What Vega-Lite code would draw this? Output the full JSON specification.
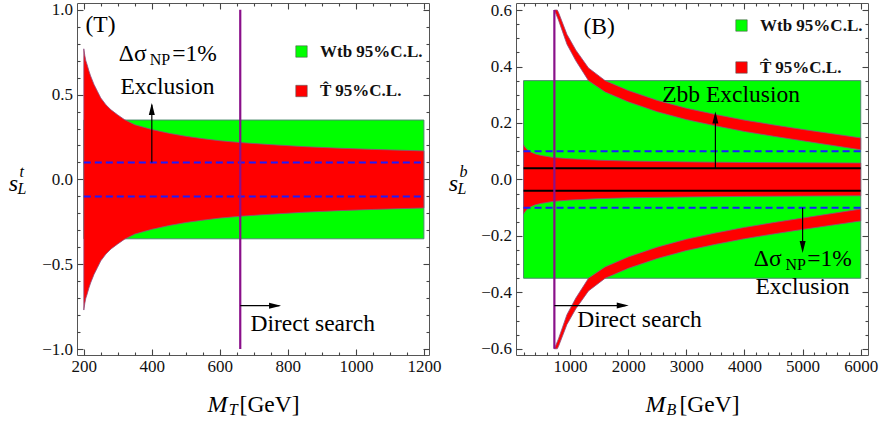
{
  "$schema": "https://vega.github.io/schema/vega-lite/v6.json",
  "padding": {"left": 8, "top": 0, "right": 4, "bottom": 0},
  "spacing": 87,
  "bounds": "flush",
  "resolve": {"scale": {"color": "independent"}},
  "config": {
    "view": {"stroke": "#555", "strokeWidth": 1},
    "axis": {"labelFont": "Liberation Serif", "labelFontSize": 17, "labelColor": "#111", "ticks": true, "tickOpacity": 1, "tickColor": "#444", "tickWidth": 1.1, "domain": false, "grid": false, "labelOverlap": false, "labelFlush": false, "title": null, "zindex": 1},
    "text": {"font": "Liberation Serif", "color": "black", "align": "left", "baseline": "alphabetic"}
  },
  "hconcat": [
    {
      "width": 352, "height": 352,
      "resolve": {"axis": {"x": "independent", "y": "independent"}},
      "layer": [
        {
          "data": {"values": [{"x": 200, "x2": 1200, "y": -0.35, "y2": 0.35, "series": "Wtb 95%C.L."}]},
          "mark": {"type": "rect", "stroke": "#4d8a6e", "strokeWidth": 1},
          "encoding": {
            "x": {"field": "x", "type": "quantitative", "scale": {"domain": [180, 1215], "nice": false, "zero": false},
              "axis": {"orient": "bottom", "values": [200,400,600,800,1000,1200], "format": "d", "tickSize": 6, "offset": -6, "labelPadding": 3}},
            "x2": {"field": "x2"},
            "y": {"field": "y", "type": "quantitative", "scale": {"domain": [-1.035, 1.04], "nice": false, "zero": false},
              "axis": {"orient": "left", "values": [-1,-0.5,0,0.5,1], "format": ".1f", "tickSize": 6, "offset": -6, "labelPadding": 4.5}},
            "y2": {"field": "y2"},
            "color": {"field": "series", "type": "nominal", "scale": {"domain": ["Wtb 95%C.L.", "T\u0302 95%C.L."], "range": ["#00ff00", "#ff0000"]},
              "legend": {"title": null, "orient": "none", "legendX": 216, "legendY": 40, "symbolType": "square", "symbolSize": 130, "symbolStrokeColor": "#555", "symbolStrokeWidth": 0.6, "labelFont": "Liberation Serif", "labelFontWeight": "bold", "labelFontSize": 17, "labelColor": "#111", "rowPadding": 21.5, "labelOffset": 10}}
          }
        },
        {
          "data": {"values": [
            {"x": 200, "hi": 0.77, "lo": -0.77, "series": "T\u0302 95%C.L."},
            {"x": 203, "hi": 0.73, "lo": -0.73, "series": "T\u0302 95%C.L."},
            {"x": 206, "hi": 0.70, "lo": -0.70, "series": "T\u0302 95%C.L."},
            {"x": 210, "hi": 0.675, "lo": -0.675, "series": "T\u0302 95%C.L."},
            {"x": 215, "hi": 0.64, "lo": -0.64, "series": "T\u0302 95%C.L."},
            {"x": 220, "hi": 0.61, "lo": -0.61, "series": "T\u0302 95%C.L."},
            {"x": 230, "hi": 0.56, "lo": -0.56, "series": "T\u0302 95%C.L."},
            {"x": 240, "hi": 0.52, "lo": -0.52, "series": "T\u0302 95%C.L."},
            {"x": 250, "hi": 0.48, "lo": -0.48, "series": "T\u0302 95%C.L."},
            {"x": 265, "hi": 0.44, "lo": -0.44, "series": "T\u0302 95%C.L."},
            {"x": 280, "hi": 0.41, "lo": -0.41, "series": "T\u0302 95%C.L."},
            {"x": 300, "hi": 0.38, "lo": -0.38, "series": "T\u0302 95%C.L."},
            {"x": 320, "hi": 0.352, "lo": -0.352, "series": "T\u0302 95%C.L."},
            {"x": 350, "hi": 0.322, "lo": -0.322, "series": "T\u0302 95%C.L."},
            {"x": 400, "hi": 0.294, "lo": -0.294, "series": "T\u0302 95%C.L."},
            {"x": 450, "hi": 0.272, "lo": -0.272, "series": "T\u0302 95%C.L."},
            {"x": 500, "hi": 0.254, "lo": -0.254, "series": "T\u0302 95%C.L."},
            {"x": 550, "hi": 0.24, "lo": -0.24, "series": "T\u0302 95%C.L."},
            {"x": 600, "hi": 0.228, "lo": -0.228, "series": "T\u0302 95%C.L."},
            {"x": 660, "hi": 0.217, "lo": -0.217, "series": "T\u0302 95%C.L."},
            {"x": 750, "hi": 0.205, "lo": -0.205, "series": "T\u0302 95%C.L."},
            {"x": 850, "hi": 0.193, "lo": -0.193, "series": "T\u0302 95%C.L."},
            {"x": 950, "hi": 0.184, "lo": -0.184, "series": "T\u0302 95%C.L."},
            {"x": 1050, "hi": 0.177, "lo": -0.177, "series": "T\u0302 95%C.L."},
            {"x": 1200, "hi": 0.168, "lo": -0.168, "series": "T\u0302 95%C.L."}
          ]},
          "mark": {"type": "area", "stroke": "#8e4f80", "strokeWidth": 0.8},
          "encoding": {
            "x": {"field": "x", "type": "quantitative", "scale": {"domain": [180, 1215], "nice": false, "zero": false},
              "axis": {"orient": "top", "labels": false, "values": [200,400,600,800,1000,1200], "tickSize": 6, "offset": -6}},
            "y": {"field": "hi", "type": "quantitative", "scale": {"domain": [-1.035, 1.04], "nice": false, "zero": false},
              "axis": {"orient": "right", "labels": false, "values": [-1,-0.5,0,0.5,1], "tickSize": 6, "offset": -6}},
            "y2": {"field": "lo"},
            "color": {"field": "series", "type": "nominal", "scale": {"domain": ["Wtb 95%C.L.", "T\u0302 95%C.L."], "range": ["#00ff00", "#ff0000"]},
              "legend": {"title": null, "orient": "none", "legendX": 216, "legendY": 40, "symbolType": "square", "symbolSize": 130, "symbolStrokeColor": "#555", "symbolStrokeWidth": 0.6, "labelFont": "Liberation Serif", "labelFontWeight": "bold", "labelFontSize": 17, "labelColor": "#111", "rowPadding": 21.5, "labelOffset": 10}}
          }
        },
        {
          "data": {"values": [{"x": 200, "x2": 1200, "y": 0.1}, {"x": 200, "x2": 1200, "y": -0.1}]},
          "mark": {"type": "rule", "color": "#1c1cff", "strokeWidth": 2, "strokeDash": [7, 4]},
          "encoding": {
            "x": {"field": "x", "type": "quantitative", "scale": {"domain": [180, 1215], "nice": false, "zero": false},
              "axis": {"orient": "bottom", "labels": false, "values": [250,300,350,450,500,550,650,700,750,850,900,950,1050,1100,1150], "tickSize": 3, "offset": -3}},
            "x2": {"field": "x2"},
            "y": {"field": "y", "type": "quantitative", "scale": {"domain": [-1.035, 1.04], "nice": false, "zero": false},
              "axis": {"orient": "left", "labels": false, "values": [-0.9,-0.8,-0.7,-0.6,-0.4,-0.3,-0.2,-0.1,0.1,0.2,0.3,0.4,0.6,0.7,0.8,0.9], "tickSize": 3, "offset": -3}}
          }
        },
        {
          "data": {"values": [{"x": 660, "y": -1, "y2": 1}]},
          "mark": {"type": "rule", "color": "#8a108a", "strokeWidth": 2.2},
          "encoding": {
            "x": {"field": "x", "type": "quantitative", "scale": {"domain": [180, 1215], "nice": false, "zero": false},
              "axis": {"orient": "top", "labels": false, "values": [250,300,350,450,500,550,650,700,750,850,900,950,1050,1100,1150], "tickSize": 3, "offset": -3}},
            "y": {"field": "y", "type": "quantitative", "scale": {"domain": [-1.035, 1.04], "nice": false, "zero": false},
              "axis": {"orient": "right", "labels": false, "values": [-0.9,-0.8,-0.7,-0.6,-0.4,-0.3,-0.2,-0.1,0.1,0.2,0.3,0.4,0.6,0.7,0.8,0.9], "tickSize": 3, "offset": -3}},
            "y2": {"field": "y2"}
          }
        },
        {
          "data": {"values": [{"x": 660, "y": -0.744, "x2": 775, "y2": -0.744}, {"x": 400, "y": 0.1, "x2": 400, "y2": 0.44}]},
          "mark": {"type": "rule", "color": "black", "strokeWidth": 1.2},
          "encoding": {
            "x": {"field": "x", "type": "quantitative", "scale": {"domain": [180, 1215], "nice": false, "zero": false}, "axis": null},
            "x2": {"field": "x2"},
            "y": {"field": "y", "type": "quantitative", "scale": {"domain": [-1.035, 1.04], "nice": false, "zero": false}, "axis": null},
            "y2": {"field": "y2"}
          }
        },
        {
          "data": {"values": [{"x": 400, "y": 0.45}]},
          "mark": {"type": "point", "shape": "M0,0L0.5,2L-0.5,2Z", "size": 144, "filled": true, "color": "black", "opacity": 1, "strokeWidth": 0, "angle": 0},
          "encoding": {
            "x": {"field": "x", "type": "quantitative", "scale": {"domain": [180, 1215], "nice": false, "zero": false}, "axis": null},
            "y": {"field": "y", "type": "quantitative", "scale": {"domain": [-1.035, 1.04], "nice": false, "zero": false}, "axis": null}
          }
        },
        {
          "data": {"values": [{"x": 780, "y": -0.744}]},
          "mark": {"type": "point", "shape": "M0,0L0.5,2L-0.5,2Z", "size": 144, "filled": true, "color": "black", "opacity": 1, "strokeWidth": 0, "angle": 90},
          "encoding": {
            "x": {"field": "x", "type": "quantitative", "scale": {"domain": [180, 1215], "nice": false, "zero": false}, "axis": null},
            "y": {"field": "y", "type": "quantitative", "scale": {"domain": [-1.035, 1.04], "nice": false, "zero": false}, "axis": null}
          }
        },
        {
          "data": {"values": [
            {"x": 205, "y": 0.869, "text": "(T)"},
            {"x": 302.9, "y": 0.696, "text": "\u0394\u03c3"},
            {"x": 459.9, "y": 0.696, "text": "=1%"},
            {"x": 307.9, "y": 0.506, "text": "Exclusion"},
            {"x": 690, "y": -0.891, "text": "Direct search"},
            {"x": 658, "y": -1.371, "text": "[GeV]"}
          ]},
          "mark": {"type": "text", "fontSize": 23.5},
          "encoding": {
            "x": {"field": "x", "type": "quantitative", "scale": {"domain": [180, 1215], "nice": false, "zero": false}, "axis": null},
            "y": {"field": "y", "type": "quantitative", "scale": {"domain": [-1.035, 1.04], "nice": false, "zero": false}, "axis": null},
            "text": {"field": "text"}
          }
        },
        {
          "data": {"values": [{"x": 394, "y": 0.673, "text": "NP"}]},
          "mark": {"type": "text", "fontSize": 16},
          "encoding": {
            "x": {"field": "x", "type": "quantitative", "scale": {"domain": [180, 1215], "nice": false, "zero": false}, "axis": null},
            "y": {"field": "y", "type": "quantitative", "scale": {"domain": [-1.035, 1.04], "nice": false, "zero": false}, "axis": null},
            "text": {"field": "text"}
          }
        },
        {
          "data": {"values": [{"x": 563.7, "y": -1.371, "text": "M"}, {"x": -21, "y": -0.07, "text": "s"}]},
          "mark": {"type": "text", "fontSize": 24, "fontStyle": "italic"},
          "encoding": {
            "x": {"field": "x", "type": "quantitative", "scale": {"domain": [180, 1215], "nice": false, "zero": false}, "axis": null},
            "y": {"field": "y", "type": "quantitative", "scale": {"domain": [-1.035, 1.04], "nice": false, "zero": false}, "axis": null},
            "text": {"field": "text"}
          }
        },
        {
          "data": {"values": [{"x": 626, "y": -1.391, "text": "T"}, {"x": 11, "y": 0.012, "text": "t"}, {"x": 5, "y": -0.086, "text": "L"}]},
          "mark": {"type": "text", "fontSize": 16, "fontStyle": "italic"},
          "encoding": {
            "x": {"field": "x", "type": "quantitative", "scale": {"domain": [180, 1215], "nice": false, "zero": false}, "axis": null},
            "y": {"field": "y", "type": "quantitative", "scale": {"domain": [-1.035, 1.04], "nice": false, "zero": false}, "axis": null},
            "text": {"field": "text"}
          }
        }
      ]
    },
    {
      "width": 352, "height": 352,
      "resolve": {"axis": {"x": "independent", "y": "independent"}},
      "layer": [
        {
          "data": {"values": [{"x": 200, "x2": 6000, "y": -0.35, "y2": 0.35, "series": "Wtb 95%C.L."}]},
          "mark": {"type": "rect", "stroke": "#4d8a6e", "strokeWidth": 1},
          "encoding": {
            "x": {"field": "x", "type": "quantitative", "scale": {"domain": [70, 6125], "nice": false, "zero": false},
              "axis": {"orient": "bottom", "values": [1000,2000,3000,4000,5000,6000], "format": "d", "tickSize": 6, "offset": -6, "labelPadding": 3}},
            "x2": {"field": "x2"},
            "y": {"field": "y", "type": "quantitative", "scale": {"domain": [-0.622, 0.625], "nice": false, "zero": false},
              "axis": {"orient": "left", "values": [-0.6,-0.4,-0.2,0,0.2,0.4,0.6], "format": ".1f", "tickSize": 6, "offset": -6, "labelPadding": 4.5}},
            "y2": {"field": "y2"},
            "color": {"field": "series", "type": "nominal", "scale": {"domain": ["Wtb 95%C.L.", "T\u0302 95%C.L."], "range": ["#00ff00", "#ff0000"]},
              "legend": {"title": null, "orient": "none", "legendX": 217, "legendY": 14, "symbolType": "square", "symbolSize": 130, "symbolStrokeColor": "#555", "symbolStrokeWidth": 0.6, "labelFont": "Liberation Serif", "labelFontWeight": "bold", "labelFontSize": 17, "labelColor": "#111", "rowPadding": 24, "labelOffset": 10}}
          }
        },
        {
          "data": {"values": [
            {"part": "c", "x": 200, "hi": 0.122, "lo": -0.122, "series": "T\u0302 95%C.L."},
            {"part": "c", "x": 230, "hi": 0.113, "lo": -0.113, "series": "T\u0302 95%C.L."},
            {"part": "c", "x": 260, "hi": 0.106, "lo": -0.106, "series": "T\u0302 95%C.L."},
            {"part": "c", "x": 300, "hi": 0.099, "lo": -0.099, "series": "T\u0302 95%C.L."},
            {"part": "c", "x": 400, "hi": 0.09, "lo": -0.09, "series": "T\u0302 95%C.L."},
            {"part": "c", "x": 500, "hi": 0.085, "lo": -0.085, "series": "T\u0302 95%C.L."},
            {"part": "c", "x": 700, "hi": 0.078, "lo": -0.078, "series": "T\u0302 95%C.L."},
            {"part": "c", "x": 1000, "hi": 0.073, "lo": -0.073, "series": "T\u0302 95%C.L."},
            {"part": "c", "x": 1500, "hi": 0.068, "lo": -0.068, "series": "T\u0302 95%C.L."},
            {"part": "c", "x": 2000, "hi": 0.065, "lo": -0.065, "series": "T\u0302 95%C.L."},
            {"part": "c", "x": 3000, "hi": 0.062, "lo": -0.062, "series": "T\u0302 95%C.L."},
            {"part": "c", "x": 4000, "hi": 0.06, "lo": -0.06, "series": "T\u0302 95%C.L."},
            {"part": "c", "x": 5000, "hi": 0.059, "lo": -0.059, "series": "T\u0302 95%C.L."},
            {"part": "c", "x": 6000, "hi": 0.058, "lo": -0.058, "series": "T\u0302 95%C.L."},
            {"part": "u", "x": 730, "hi": 0.6, "lo": 0.6, "series": "T\u0302 95%C.L."},
            {"part": "u", "x": 780, "hi": 0.6, "lo": 0.575, "series": "T\u0302 95%C.L."},
            {"part": "u", "x": 800, "hi": 0.592, "lo": 0.565, "series": "T\u0302 95%C.L."},
            {"part": "u", "x": 946, "hi": 0.514, "lo": 0.479, "series": "T\u0302 95%C.L."},
            {"part": "u", "x": 1100, "hi": 0.458, "lo": 0.42, "series": "T\u0302 95%C.L."},
            {"part": "u", "x": 1317, "hi": 0.395, "lo": 0.35, "series": "T\u0302 95%C.L."},
            {"part": "u", "x": 1604, "hi": 0.35, "lo": 0.31, "series": "T\u0302 95%C.L."},
            {"part": "u", "x": 2000, "hi": 0.315, "lo": 0.275, "series": "T\u0302 95%C.L."},
            {"part": "u", "x": 2500, "hi": 0.28, "lo": 0.24, "series": "T\u0302 95%C.L."},
            {"part": "u", "x": 3000, "hi": 0.252, "lo": 0.212, "series": "T\u0302 95%C.L."},
            {"part": "u", "x": 3500, "hi": 0.23, "lo": 0.19, "series": "T\u0302 95%C.L."},
            {"part": "u", "x": 4000, "hi": 0.21, "lo": 0.17, "series": "T\u0302 95%C.L."},
            {"part": "u", "x": 4500, "hi": 0.193, "lo": 0.153, "series": "T\u0302 95%C.L."},
            {"part": "u", "x": 5000, "hi": 0.177, "lo": 0.137, "series": "T\u0302 95%C.L."},
            {"part": "u", "x": 5500, "hi": 0.162, "lo": 0.121, "series": "T\u0302 95%C.L."},
            {"part": "u", "x": 6000, "hi": 0.147, "lo": 0.105, "series": "T\u0302 95%C.L."},
            {"part": "d", "x": 730, "hi": -0.6, "lo": -0.6, "series": "T\u0302 95%C.L."},
            {"part": "d", "x": 780, "hi": -0.575, "lo": -0.6, "series": "T\u0302 95%C.L."},
            {"part": "d", "x": 800, "hi": -0.565, "lo": -0.592, "series": "T\u0302 95%C.L."},
            {"part": "d", "x": 946, "hi": -0.479, "lo": -0.514, "series": "T\u0302 95%C.L."},
            {"part": "d", "x": 1100, "hi": -0.42, "lo": -0.458, "series": "T\u0302 95%C.L."},
            {"part": "d", "x": 1317, "hi": -0.35, "lo": -0.395, "series": "T\u0302 95%C.L."},
            {"part": "d", "x": 1604, "hi": -0.31, "lo": -0.35, "series": "T\u0302 95%C.L."},
            {"part": "d", "x": 2000, "hi": -0.275, "lo": -0.315, "series": "T\u0302 95%C.L."},
            {"part": "d", "x": 2500, "hi": -0.24, "lo": -0.28, "series": "T\u0302 95%C.L."},
            {"part": "d", "x": 3000, "hi": -0.212, "lo": -0.252, "series": "T\u0302 95%C.L."},
            {"part": "d", "x": 3500, "hi": -0.19, "lo": -0.23, "series": "T\u0302 95%C.L."},
            {"part": "d", "x": 4000, "hi": -0.17, "lo": -0.21, "series": "T\u0302 95%C.L."},
            {"part": "d", "x": 4500, "hi": -0.153, "lo": -0.193, "series": "T\u0302 95%C.L."},
            {"part": "d", "x": 5000, "hi": -0.137, "lo": -0.177, "series": "T\u0302 95%C.L."},
            {"part": "d", "x": 5500, "hi": -0.121, "lo": -0.162, "series": "T\u0302 95%C.L."},
            {"part": "d", "x": 6000, "hi": -0.105, "lo": -0.147, "series": "T\u0302 95%C.L."}
          ]},
          "mark": {"type": "area", "stroke": "#8e4f80", "strokeWidth": 0.8},
          "encoding": {
            "x": {"field": "x", "type": "quantitative", "scale": {"domain": [70, 6125], "nice": false, "zero": false},
              "axis": {"orient": "top", "labels": false, "values": [1000,2000,3000,4000,5000,6000], "tickSize": 6, "offset": -6}},
            "y": {"field": "hi", "type": "quantitative", "scale": {"domain": [-0.622, 0.625], "nice": false, "zero": false},
              "axis": {"orient": "right", "labels": false, "values": [-0.6,-0.4,-0.2,0,0.2,0.4,0.6], "tickSize": 6, "offset": -6}},
            "y2": {"field": "lo"},
            "detail": {"field": "part"},
            "color": {"field": "series", "type": "nominal", "scale": {"domain": ["Wtb 95%C.L.", "T\u0302 95%C.L."], "range": ["#00ff00", "#ff0000"]},
              "legend": {"title": null, "orient": "none", "legendX": 217, "legendY": 14, "symbolType": "square", "symbolSize": 130, "symbolStrokeColor": "#555", "symbolStrokeWidth": 0.6, "labelFont": "Liberation Serif", "labelFontWeight": "bold", "labelFontSize": 17, "labelColor": "#111", "rowPadding": 24, "labelOffset": 10}}
          }
        },
        {
          "data": {"values": [{"x": 200, "x2": 6000, "y": 0.1}, {"x": 200, "x2": 6000, "y": -0.1}]},
          "mark": {"type": "rule", "color": "#1c1cff", "strokeWidth": 2, "strokeDash": [7, 4]},
          "encoding": {
            "x": {"field": "x", "type": "quantitative", "scale": {"domain": [70, 6125], "nice": false, "zero": false},
              "axis": {"orient": "bottom", "labels": false, "values": [200,400,600,800,1200,1400,1600,1800,2200,2400,2600,2800,3200,3400,3600,3800,4200,4400,4600,4800,5200,5400,5600,5800], "tickSize": 3, "offset": -3}},
            "x2": {"field": "x2"},
            "y": {"field": "y", "type": "quantitative", "scale": {"domain": [-0.622, 0.625], "nice": false, "zero": false},
              "axis": {"orient": "left", "labels": false, "values": [-0.55,-0.5,-0.45,-0.35,-0.3,-0.25,-0.15,-0.1,-0.05,0.05,0.1,0.15,0.25,0.3,0.35,0.45,0.5,0.55], "tickSize": 3, "offset": -3}}
          }
        },
        {
          "data": {"values": [{"x": 200, "x2": 6000, "y": 0.04}, {"x": 200, "x2": 6000, "y": -0.04}]},
          "mark": {"type": "rule", "color": "black", "strokeWidth": 2},
          "encoding": {
            "x": {"field": "x", "type": "quantitative", "scale": {"domain": [70, 6125], "nice": false, "zero": false},
              "axis": {"orient": "top", "labels": false, "values": [200,400,600,800,1200,1400,1600,1800,2200,2400,2600,2800,3200,3400,3600,3800,4200,4400,4600,4800,5200,5400,5600,5800], "tickSize": 3, "offset": -3}},
            "x2": {"field": "x2"},
            "y": {"field": "y", "type": "quantitative", "scale": {"domain": [-0.622, 0.625], "nice": false, "zero": false},
              "axis": {"orient": "right", "labels": false, "values": [-0.55,-0.5,-0.45,-0.35,-0.3,-0.25,-0.15,-0.1,-0.05,0.05,0.1,0.15,0.25,0.3,0.35,0.45,0.5,0.55], "tickSize": 3, "offset": -3}}
          }
        },
        {
          "data": {"values": [{"x": 730, "y": -0.6, "y2": 0.6}]},
          "mark": {"type": "rule", "color": "#8a108a", "strokeWidth": 2.2},
          "encoding": {
            "x": {"field": "x", "type": "quantitative", "scale": {"domain": [70, 6125], "nice": false, "zero": false}, "axis": null},
            "y": {"field": "y", "type": "quantitative", "scale": {"domain": [-0.622, 0.625], "nice": false, "zero": false}, "axis": null},
            "y2": {"field": "y2"}
          }
        },
        {
          "data": {"values": [{"x": 730, "y": -0.447, "x2": 1950, "y2": -0.447}, {"x": 3500, "y": 0.04, "x2": 3500, "y2": 0.225}, {"x": 5000, "y": -0.1, "x2": 5000, "y2": -0.245}]},
          "mark": {"type": "rule", "color": "black", "strokeWidth": 1.2},
          "encoding": {
            "x": {"field": "x", "type": "quantitative", "scale": {"domain": [70, 6125], "nice": false, "zero": false}, "axis": null},
            "x2": {"field": "x2"},
            "y": {"field": "y", "type": "quantitative", "scale": {"domain": [-0.622, 0.625], "nice": false, "zero": false}, "axis": null},
            "y2": {"field": "y2"}
          }
        },
        {
          "data": {"values": [{"x": 3500, "y": 0.241}]},
          "mark": {"type": "point", "shape": "M0,0L0.5,2L-0.5,2Z", "size": 144, "filled": true, "color": "black", "opacity": 1, "strokeWidth": 0, "angle": 0},
          "encoding": {
            "x": {"field": "x", "type": "quantitative", "scale": {"domain": [70, 6125], "nice": false, "zero": false}, "axis": null},
            "y": {"field": "y", "type": "quantitative", "scale": {"domain": [-0.622, 0.625], "nice": false, "zero": false}, "axis": null}
          }
        },
        {
          "data": {"values": [{"x": 2010, "y": -0.447}]},
          "mark": {"type": "point", "shape": "M0,0L0.5,2L-0.5,2Z", "size": 144, "filled": true, "color": "black", "opacity": 1, "strokeWidth": 0, "angle": 90},
          "encoding": {
            "x": {"field": "x", "type": "quantitative", "scale": {"domain": [70, 6125], "nice": false, "zero": false}, "axis": null},
            "y": {"field": "y", "type": "quantitative", "scale": {"domain": [-0.622, 0.625], "nice": false, "zero": false}, "axis": null}
          }
        },
        {
          "data": {"values": [{"x": 5000, "y": -0.261}]},
          "mark": {"type": "point", "shape": "M0,0L0.5,2L-0.5,2Z", "size": 144, "filled": true, "color": "black", "opacity": 1, "strokeWidth": 0, "angle": 180},
          "encoding": {
            "x": {"field": "x", "type": "quantitative", "scale": {"domain": [70, 6125], "nice": false, "zero": false}, "axis": null},
            "y": {"field": "y", "type": "quantitative", "scale": {"domain": [-0.622, 0.625], "nice": false, "zero": false}, "axis": null}
          }
        },
        {
          "data": {"values": [
            {"x": 1231, "y": 0.516, "text": "(B)"},
            {"x": 2585, "y": 0.273, "text": "Zbb Exclusion"},
            {"x": 4161, "y": -0.305, "text": "\u0394\u03c3"},
            {"x": 5079, "y": -0.305, "text": "=1%"},
            {"x": 4190, "y": -0.405, "text": "Exclusion"},
            {"x": 1123, "y": -0.524, "text": "Direct search"},
            {"x": 2883, "y": -0.824, "text": "[GeV]"}
          ]},
          "mark": {"type": "text", "fontSize": 23.5},
          "encoding": {
            "x": {"field": "x", "type": "quantitative", "scale": {"domain": [70, 6125], "nice": false, "zero": false}, "axis": null},
            "y": {"field": "y", "type": "quantitative", "scale": {"domain": [-0.622, 0.625], "nice": false, "zero": false}, "axis": null},
            "text": {"field": "text"}
          }
        },
        {
          "data": {"values": [{"x": 4706, "y": -0.3195, "text": "NP"}]},
          "mark": {"type": "text", "fontSize": 16},
          "encoding": {
            "x": {"field": "x", "type": "quantitative", "scale": {"domain": [70, 6125], "nice": false, "zero": false}, "axis": null},
            "y": {"field": "y", "type": "quantitative", "scale": {"domain": [-0.622, 0.625], "nice": false, "zero": false}, "axis": null},
            "text": {"field": "text"}
          }
        },
        {
          "data": {"values": [{"x": 2298, "y": -0.824, "text": "M"}, {"x": -1086, "y": -0.042, "text": "s"}]},
          "mark": {"type": "text", "fontSize": 24, "fontStyle": "italic"},
          "encoding": {
            "x": {"field": "x", "type": "quantitative", "scale": {"domain": [70, 6125], "nice": false, "zero": false}, "axis": null},
            "y": {"field": "y", "type": "quantitative", "scale": {"domain": [-0.622, 0.625], "nice": false, "zero": false}, "axis": null},
            "text": {"field": "text"}
          }
        },
        {
          "data": {"values": [{"x": 2659, "y": -0.836, "text": "B"}, {"x": -902, "y": 0.0085, "text": "b"}, {"x": -936, "y": -0.052, "text": "L"}]},
          "mark": {"type": "text", "fontSize": 16, "fontStyle": "italic"},
          "encoding": {
            "x": {"field": "x", "type": "quantitative", "scale": {"domain": [70, 6125], "nice": false, "zero": false}, "axis": null},
            "y": {"field": "y", "type": "quantitative", "scale": {"domain": [-0.622, 0.625], "nice": false, "zero": false}, "axis": null},
            "text": {"field": "text"}
          }
        }
      ]
    }
  ]
}
